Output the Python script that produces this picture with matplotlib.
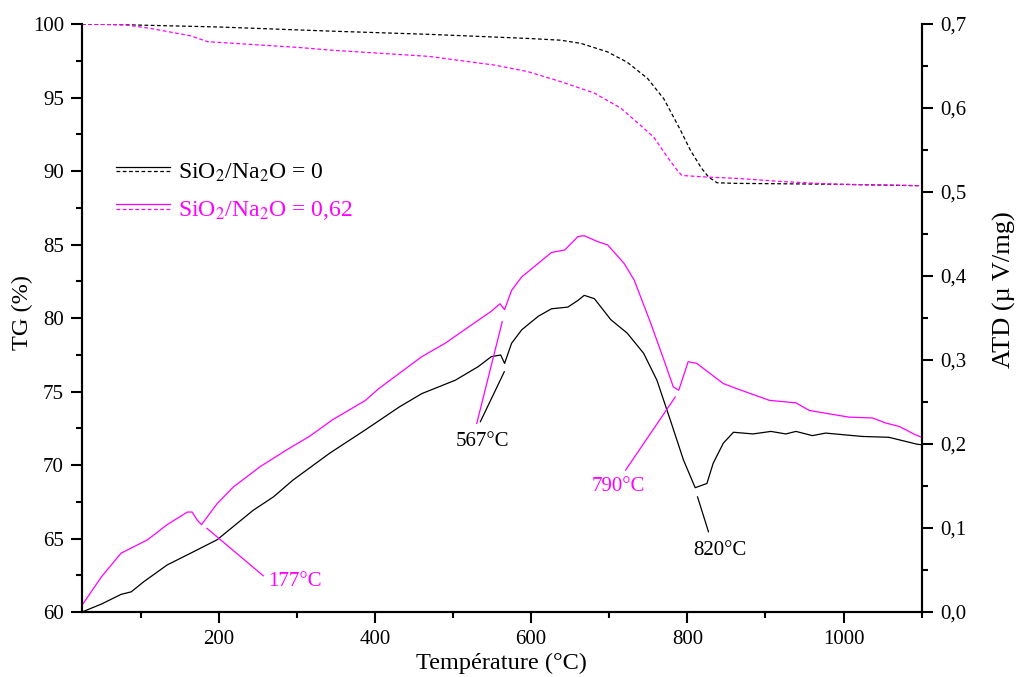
import matplotlib
matplotlib.use("Agg")
import matplotlib.pyplot as plt
from matplotlib.lines import Line2D
from matplotlib.legend_handler import HandlerBase
from matplotlib.ticker import MultipleLocator, FuncFormatter

plt.rcParams['font.family'] = ['Liberation Serif', 'DejaVu Serif']
plt.rcParams['mathtext.fontset'] = 'stix'

MAG = '#ff00ff'

# TG curves (left axis, %)
T_tg0 = [25, 80, 200, 342, 469, 596, 638, 664, 698, 723, 749, 770, 791, 804, 818, 827, 838, 863, 990, 1100]
tg0 = [100, 99.95, 99.8, 99.52, 99.3, 99.02, 98.9, 98.68, 98.1, 97.4, 96.3, 94.9, 92.8, 91.4, 90.2, 89.6, 89.2, 89.16, 89.1, 89.0]
T_tg1 = [25, 80, 113, 164, 186, 304, 342, 469, 554, 596, 638, 681, 715, 738, 757, 774, 787, 793, 821, 863, 926, 990, 1100]
tg1 = [100, 99.95, 99.7, 99.2, 98.8, 98.4, 98.23, 97.8, 97.2, 96.76, 96.08, 95.3, 94.27, 93.2, 92.3, 90.98, 90.05, 89.7, 89.6, 89.5, 89.27, 89.1, 89.0]

# ATD curves (right axis, uV/mg)
T_atd0 = [25, 50, 75, 88, 104, 134, 164, 198, 219, 244, 270, 295, 342, 388, 431, 460, 503, 532,
          549, 561, 566, 575, 588, 609, 626, 647, 660, 668, 681, 702, 723, 744, 761, 778, 795,
          810, 825, 833, 846, 859, 884, 907, 926, 939, 960, 977, 1024, 1058, 1093, 1100]
atd0 = [0.0, 0.0095, 0.021, 0.024, 0.036, 0.056, 0.070, 0.086, 0.102, 0.121, 0.137, 0.157, 0.189, 0.217, 0.244, 0.260, 0.276, 0.292,
        0.304, 0.306, 0.296, 0.320, 0.336, 0.352, 0.361, 0.363, 0.371, 0.377, 0.373, 0.348, 0.332, 0.308, 0.276, 0.229, 0.181,
        0.148, 0.153, 0.177, 0.201, 0.214, 0.212, 0.215, 0.212, 0.215, 0.210, 0.213, 0.209, 0.208, 0.200, 0.199]
T_atd1 = [25, 50, 75, 92, 109, 134, 160, 166, 172, 178, 198, 219, 253, 287, 316, 346, 388, 405, 460, 490, 524,
          549, 560, 566, 575, 588, 609, 626, 643, 660, 668, 685, 698, 719, 732, 753, 770, 782, 789, 801,
          812, 829, 846, 863, 905, 939, 956, 981, 1007, 1037, 1054, 1071, 1092, 1100]
atd1 = [0.008, 0.042, 0.070, 0.078, 0.086, 0.104, 0.119, 0.119, 0.110, 0.104, 0.129, 0.149, 0.173, 0.193, 0.209, 0.229, 0.252, 0.266, 0.304, 0.320, 0.342,
        0.358, 0.367, 0.360, 0.383, 0.399, 0.415, 0.428, 0.431, 0.447, 0.448, 0.441, 0.437, 0.415, 0.395, 0.344, 0.300, 0.268, 0.264, 0.298,
        0.296, 0.284, 0.272, 0.266, 0.252, 0.249, 0.240, 0.236, 0.232, 0.231, 0.225, 0.221, 0.211, 0.208]

# peak annotations: label, color, line start (T, v), line end (T, v), text position (T, v)
notes = [
    ("177°C", MAG, (185, 0.0996), (257, 0.0432), (298, 0.036)),
    ("567°C", 'black', (565.6, 0.286), (535, 0.2266), (538, 0.2028)),
    ("567°C", MAG, (563, 0.3456), (530.4, 0.2246), None),
    ("790°C", MAG, (784.5, 0.256), (721, 0.169), (711, 0.149)),
    ("820°C", 'black', (813, 0.137), (827, 0.0956), (841, 0.0738)),
]

labels = [r'SiO$_2$/Na$_2$O = 0', r'SiO$_2$/Na$_2$O = 0,62']


class HandlerPair(HandlerBase):
    # solid line above dashed line, like the original legend
    def create_artists(self, legend, orig_handle, xdescent, ydescent, width, height, fontsize, trans):
        solid, dashed = orig_handle
        y = height / 2 - ydescent
        l1 = Line2D([-xdescent, width - xdescent], [y + 0.22 * height] * 2, color=solid.get_color(),
                    lw=solid.get_linewidth(), transform=trans)
        l2 = Line2D([-xdescent, width - xdescent], [y - 0.05 * height] * 2, color=dashed.get_color(),
                    lw=dashed.get_linewidth(), ls=(0, (3, 2)), transform=trans)
        return [l1, l2]


fig = plt.figure(figsize=(10.16, 6.77), dpi=100)
ax = fig.add_axes([0.0807, 0.096, 0.8265, 0.8685])
ax2 = ax.twinx()

d0, = ax.plot(T_tg0, tg0, color='black', lw=0.9, ls=(0, (3, 2)))
d1, = ax.plot(T_tg1, tg1, color=MAG, lw=0.9, ls=(0, (3, 2)))
s0, = ax2.plot(T_atd0, atd0, color='black', lw=0.9)
s1, = ax2.plot(T_atd1, atd1, color=MAG, lw=0.9)

for lab, col, p0, p1, pt in notes:
    ax2.plot([p0[0], p1[0]], [p0[1], p1[1]], color=col, lw=0.9)
    if pt is not None:
        ax2.text(pt[0], pt[1], lab, color=col, fontsize=15, ha='center', va='center')

ax.set_xlim(25, 1100)
ax.set_ylim(60, 100)
ax2.set_ylim(0, 0.7)

ax.xaxis.set_major_locator(MultipleLocator(200))
ax.xaxis.set_minor_locator(MultipleLocator(100))
ax.yaxis.set_major_locator(MultipleLocator(5))
ax.yaxis.set_minor_locator(MultipleLocator(2.5))
ax2.yaxis.set_major_locator(MultipleLocator(0.1))
ax2.yaxis.set_minor_locator(MultipleLocator(0.05))
ax2.yaxis.set_major_formatter(FuncFormatter(lambda v, p: f"{v:.1f}".replace('.', ',')))

for a in (ax, ax2):
    for sp in a.spines.values():
        sp.set_linewidth(1.5)
    a.spines['top'].set_visible(False)
    a.tick_params(which='major', direction='out', length=8, width=1.5, labelsize=15, pad=5)
    a.tick_params(which='minor', direction='out', length=4, width=1.5)
ax.tick_params(axis='x', which='both', top=False)

ax.set_xlabel('Température (°C)', fontsize=17.5, labelpad=3)
ax.set_ylabel('TG (%)', fontsize=17.5)
ax.yaxis.set_label_coords(-0.058, 0.51)
ax2.set_ylabel('ATD (µ V/mg)', fontsize=19)
ax2.yaxis.set_label_coords(1.0845, 0.548)

leg = ax.legend([(s0, d0), (s1, d1)], labels, handler_map={tuple: HandlerPair()},
                loc='upper left', bbox_to_anchor=(0.040, 0.766), frameon=False,
                borderpad=0, borderaxespad=0,
                fontsize=17, handlelength=2.3, handletextpad=0.35, labelspacing=0.65,
                labelcolor=['black', MAG])

fig.savefig('out.png', dpi=100)
